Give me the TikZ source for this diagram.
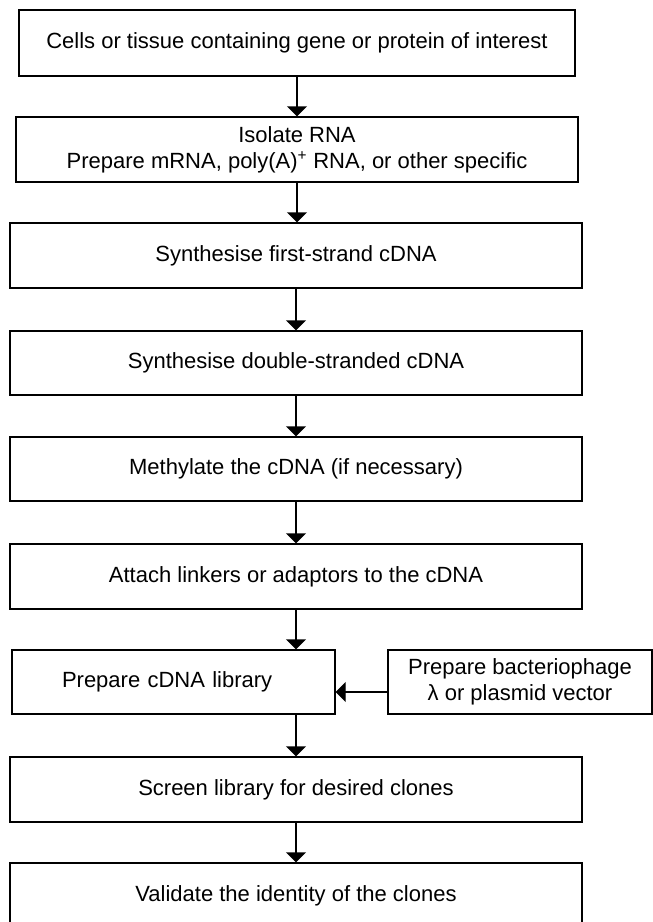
\documentclass[tikz,border=0pt]{standalone}
\usepackage{fontspec}
\setmainfont{Liberation Sans}
\usetikzlibrary{arrows.meta}
\begin{document}
\begin{tikzpicture}[x=1pt,y=-1pt,
  stage/.style={draw, line width=1.4pt, minimum height=65pt, inner sep=0pt, align=center, font=\fontsize{22}{26}\selectfont},
  flow/.style={line width=1.4pt, -{Triangle[width=20pt,length=10pt]}}]
\clip (0,0) rectangle (653,922);
\node[stage, minimum width=556pt, minimum height=66pt] (cells) at (297,43){Cells or tissue containing gene or protein of interest};
\node[stage, minimum width=562pt] (isolate) at (297,149.5){Isolate RNA\\Prepare mRNA, poly(A)\textsuperscript{+} RNA, or other specific};
\draw[flow](cells.south) -- (cells.south |- isolate.north);
\node[stage, minimum width=572pt] (first) at (296,255.5){Synthesise first-strand cDNA};
\draw[flow](isolate.south) -- (isolate.south |- first.north);
\node[stage, minimum width=572pt, minimum height=64pt] (double) at (296,363){Synthesise double-stranded cDNA};
\draw[flow](first.south) -- (first.south |- double.north);
\node[stage, minimum width=572pt, minimum height=64pt] (methyl) at (296,469){Methylate the cDNA (if necessary)};
\draw[flow](double.south) -- (double.south |- methyl.north);
\node[stage, minimum width=572pt] (attach) at (296,576.5){Attach linkers or adaptors to the cDNA};
\draw[flow](methyl.south) -- (methyl.south |- attach.north);
\node[stage, minimum height=64pt, inner xsep=50pt, text width=223pt, align=left] (lib) at (173.5,682){Prepare cDNA library};
\draw[flow](attach.south) -- (attach.south |- lib.north);
\node[stage, minimum width=264pt, minimum height=64pt] (vector) at (520,682){Prepare bacteriophage\\λ or plasmid vector};
\draw[flow]([yshift=-10pt]vector.west) -- ([yshift=-10pt]lib.east);
\node[stage, minimum width=572pt] (screen) at (296,789.5){Screen library for desired clones};
\draw[flow](attach.south |- lib.south) -- (attach.south |- screen.north);
\node[stage, minimum width=572pt] (validate) at (296,895.5){Validate the identity of the clones};
\draw[flow](screen.south) -- (screen.south |- validate.north);
\end{tikzpicture}
\end{document}
